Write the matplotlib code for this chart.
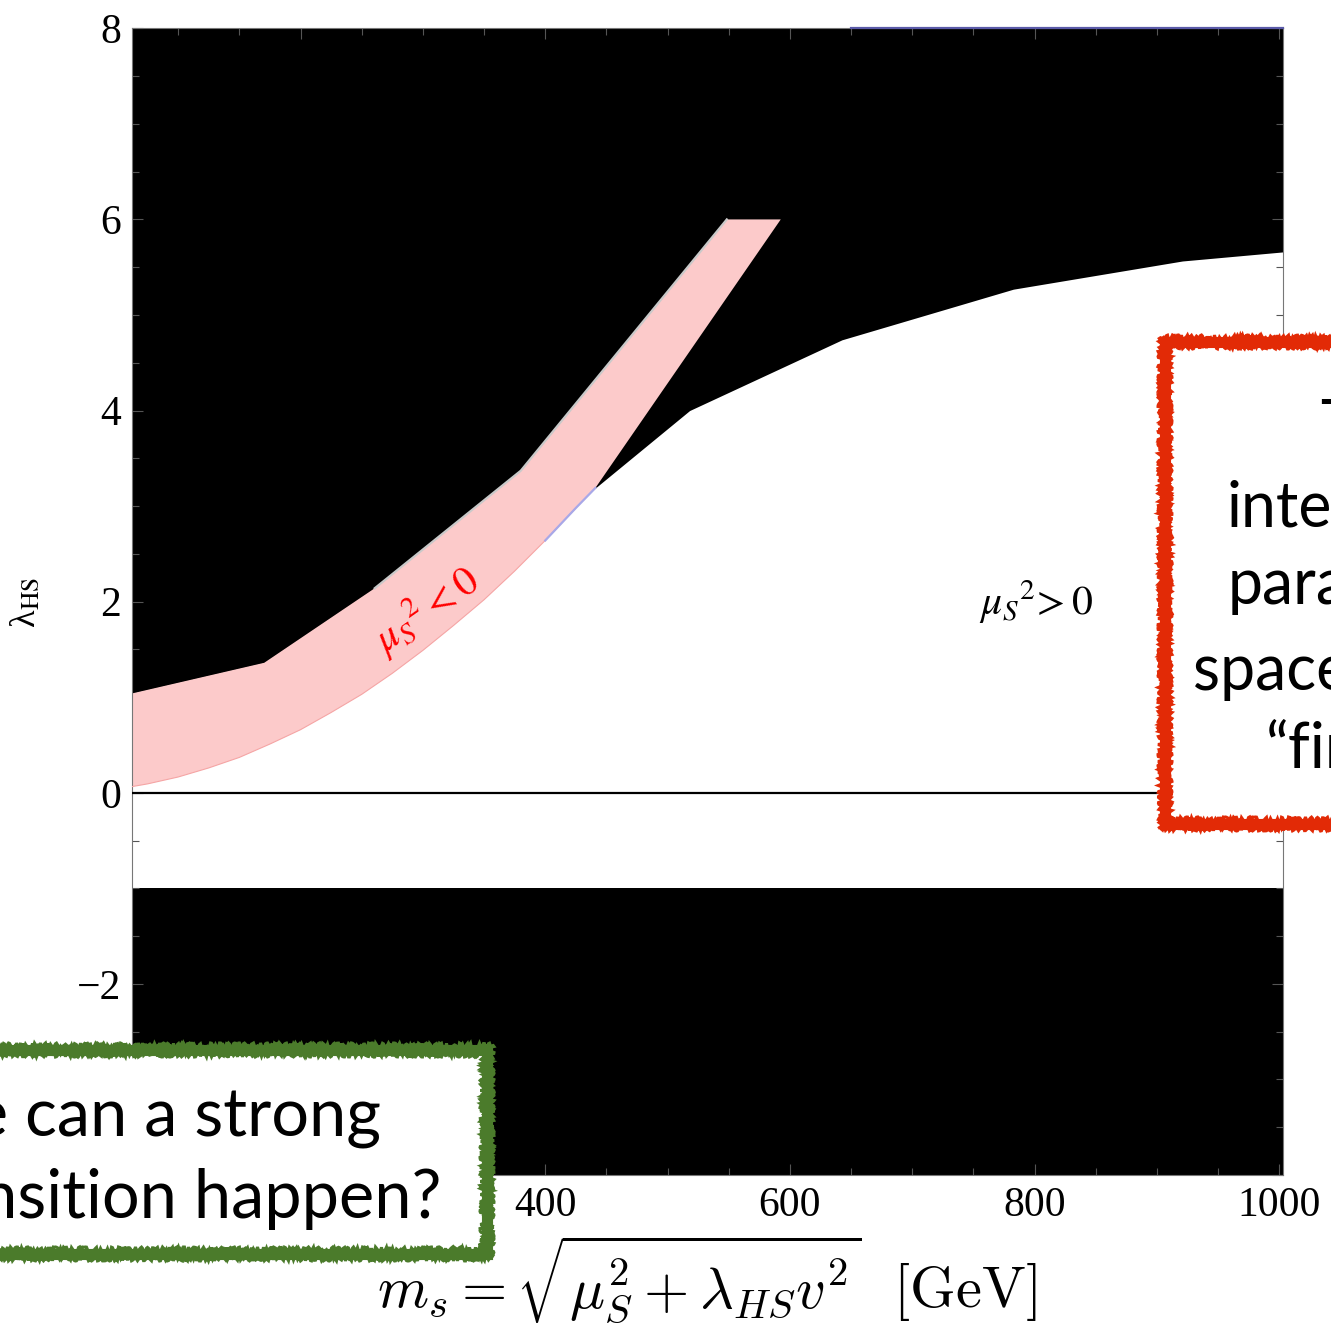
import matplotlib.pyplot as plt
from matplotlib.patches import Rectangle
from matplotlib.ticker import MultipleLocator

W, H = 1331, 1329

# excluded region above the upper boundary (scalar mass in GeV, lambda_HS)
ms_excl = [62.5, 170.3, 260.6, 380.0, 441.0, 518.0, 642.5, 782.6, 920.8, 1003.0]
lam_excl = [1.04, 1.36, 2.14, 3.37, 3.19, 4.00, 4.74, 5.27, 5.565, 5.66]

# excluded band at negative coupling
ms_neg = [62.5, 1003.0]
lam_neg_lo, lam_neg_hi = -4.0, -1.0

# mu_S^2 < 0 band: upper and lower edges
ms_band_hi = [62.5, 170.3, 260.6, 380.0, 548.4]
lam_band_hi = [1.04, 1.36, 2.14, 3.37, 6.0]
ms_band_lo = [62.5, 75, 100, 125, 150, 175, 200, 225, 250, 275, 300, 325,
              350, 375, 400, 425, 441.0, 592.5]
lam_band_lo = [0.065, 0.093, 0.165, 0.26, 0.37, 0.51, 0.66, 0.84, 1.03, 1.25,
               1.49, 1.75, 2.02, 2.32, 2.64, 2.98, 3.19, 6.0]

# tick positions and labels (the 200 and -4 labels sit under the call-out box)
x_ticks = [200, 400, 600, 800, 1000]
x_ticklabels = ['', '400', '600', '800', '1000']
y_ticks = [-4, -2, 0, 2, 4, 6, 8]
y_ticklabels = ['', '\u22122', '0', '2', '4', '6', '8']

plt.rcParams['font.family'] = ['Liberation Serif', 'DejaVu Serif']
plt.rcParams['mathtext.fontset'] = 'stix'


def fx(px):
    return px / W


def fy(py):
    return 1 - py / H


def callout(x0, y0, x1, y1, color):
    # thick frame with a couple of jittered outlines for a chalky edge
    kw = dict(transform=fig.transFigure, zorder=10)
    fig.add_artist(Rectangle((fx(x0), fy(y1)), fx(x1) - fx(x0), fy(y0) - fy(y1),
                             facecolor='white', edgecolor=color, lw=8.0, **kw))
    for off, sc in [(-4.5, 2.5), (4.5, 2.5)]:
        r = Rectangle((fx(x0 + off), fy(y1 - off)), fx(x1 - off) - fx(x0 + off),
                      fy(y0 + off) - fy(y1 - off), facecolor='none', edgecolor=color,
                      lw=2.2, **kw)
        r.set_sketch_params(scale=sc, length=4, randomness=6)
        fig.add_artist(r)


fig = plt.figure(figsize=(W / 100, H / 100), dpi=100)
ax = fig.add_axes([fx(132.3), fy(1175), fx(1283) - fx(132.3), fy(28.3) - fy(1175)])

ax.fill_between(ms_excl, lam_excl, 8, color='black', lw=0, zorder=1)
ax.fill_between(ms_neg, lam_neg_lo, lam_neg_hi, color='black', lw=0, zorder=1)

band_x = ms_band_lo + ms_band_hi[::-1]
band_y = lam_band_lo + lam_band_hi[::-1]
ax.fill(band_x, band_y, color='#fccaca', lw=0, zorder=2)
ax.plot(ms_band_lo[:-1], lam_band_lo[:-1], color='#f5a5a5', lw=0.8, zorder=3)
ax.plot(ms_band_hi[2:], lam_band_hi[2:], color='#c9c9c9', lw=1.6, zorder=3)
ax.plot(ms_band_lo[14:17], lam_band_lo[14:17], color='#a8a8e8', lw=1.6, zorder=3)
ax.plot([650, 1003], [8, 8], color='#5a5aa8', lw=1.6, zorder=4, clip_on=False)

ax.axhline(0, color='black', lw=1.6, zorder=4)

ax.text(303, 1.91, r'$\mu_S{}^2 < 0$', color='red', fontsize=30, rotation=35,
        ha='center', va='center', rotation_mode='anchor', zorder=5)
ax.text(801, 2.0, r'$\mu_S{}^2\!> 0$', color='black', fontsize=30,
        ha='center', va='center', zorder=5)

ax.set_xlim(62.5, 1003)
ax.set_ylim(-4, 8)
ax.set_xticks(x_ticks, x_ticklabels)
ax.set_yticks(y_ticks, y_ticklabels)
ax.xaxis.set_minor_locator(MultipleLocator(50))
ax.yaxis.set_minor_locator(MultipleLocator(0.5))
ax.tick_params(which='both', direction='in', top=True, right=True,
               color='#555555', width=0.8, labelsize=30, pad=8)
ax.tick_params(which='major', length=8)
ax.tick_params(which='minor', length=5)
for sp in ax.spines.values():
    sp.set_color('#777777')
    sp.set_linewidth(0.8)

fig.text(fx(27), fy(603), 'λ$_\\mathrm{HS}$', rotation=90, fontsize=26,
         ha='center', va='center')
fig.text(fx(707), fy(1308), r'$m_s = \sqrt{\mu_S^2 + \lambda_{HS} v^2}\ \ [\mathrm{GeV}]$',
         fontsize=42, ha='center', va='baseline', math_fontfamily='cm')

# red call-out box on the right
callout(1164.5, 341.5, 1500, 823.5, '#e22a06')
red_lines = ['The', 'interesting', 'parameter', 'space is', '\u201cfinite\u201d']
red_x = [1320, 1226, 1228, 1193, 1266]
red_base = [445, 527, 604, 690, 767]
for s, x, y in zip(red_lines, red_x, red_base):
    fig.text(fx(x), fy(y), s, family='Lato', fontsize=45, ha='left', va='baseline', zorder=11)

# green call-out box at the bottom left
callout(-60, 1049.5, 486.5, 1253.5, '#4b7b2b')
green_lines = ['Where can a strong', 'phase transition happen?']
green_x = [381, 441]
green_base = [1136, 1218]
for s, x, y in zip(green_lines, green_x, green_base):
    fig.text(fx(x), fy(y), s, family='Lato', fontsize=48, ha='right', va='baseline', zorder=11)

fig.savefig('out.png', dpi=100)
